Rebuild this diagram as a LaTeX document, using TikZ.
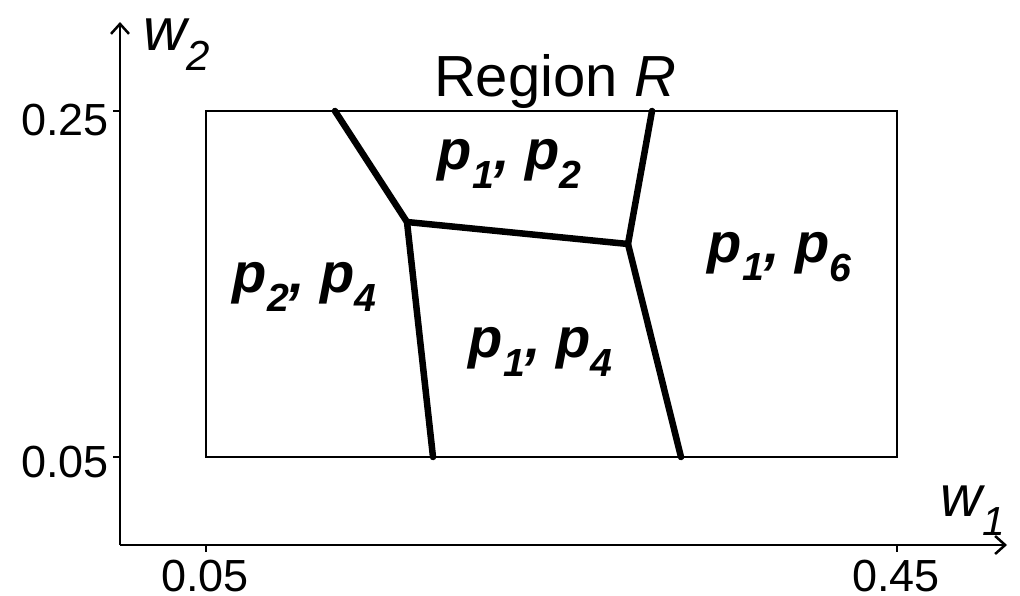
\documentclass[tikz,border=0pt]{standalone}
\usepackage{fontspec}
\setmainfont{Liberation Sans}
\usetikzlibrary{arrows.meta}
\begin{document}
\begin{tikzpicture}[x=1pt,y=-1pt,
  axis/.style={line width=2.5pt,-{Straight Barb[length=10pt,width=18pt,line width=2.5pt]}},
  tickm/.style={line width=2pt},
  bound/.style={line width=6.5pt,line cap=round,line join=round},
  lbl/.style={font=\fontsize{56}{56}\selectfont\bfseries\itshape},
  num/.style={font=\fontsize{45}{45}\selectfont}]
\useasboundingbox (0,0) rectangle (1020,595);
% axes
\coordinate (O) at (120,545);
\coordinate (Ytop) at (120,22);
\coordinate (Xend) at (1007,545);
\draw[axis] (O) -- (Ytop);
\draw[axis] (O) -- (Xend);
% ticks
\coordinate (ty1) at (120,111); \coordinate (ty1l) at (113,111);
\coordinate (ty2) at (120,457); \coordinate (ty2l) at (113,457);
\coordinate (tx1) at (206,545); \coordinate (tx1b) at (206,552);
\coordinate (tx2) at (897,545); \coordinate (tx2b) at (897,552);
\draw[tickm] (ty1) -- (ty1l);
\draw[tickm] (ty2) -- (ty2l);
\draw[tickm] (tx1) -- (tx1b);
\draw[tickm] (tx2) -- (tx2b);
% tick labels
\node[num,anchor=base east,inner sep=0pt] (l025) at (109,135) {0.25};
\node[num,anchor=base east,inner sep=0pt] (l005y) at (109,477) {0.05};
\node[num,anchor=base,inner sep=0pt] (l005x) at (205,591) {0.05};
\node[num,anchor=base,inner sep=0pt] (l045x) at (896,591) {0.45};
% axis labels
\node[font=\fontsize{60}{60}\selectfont\itshape,anchor=base west,inner sep=0pt] (w2) at (143,50) {w\textsubscript{2}};
\node[font=\fontsize{58}{58}\selectfont\itshape,anchor=base,inner sep=0pt] (w1) at (973,516) {w\textsubscript{1}};
% region
\draw[line width=1.5pt] (206,111) rectangle (897,457);
\node[font=\fontsize{58}{58}\selectfont,anchor=base,inner sep=0pt] (title) at (555,96) {Region \textit{R}};
% boundaries
\coordinate (a) at (335,111);
\coordinate (b) at (407,222);
\coordinate (c) at (628,244);
\coordinate (d) at (652,111);
\coordinate (e) at (433,457);
\coordinate (f) at (681,457);
\draw[bound] (a) -- (b) -- (c) -- (d);
\draw[bound] (b) -- (e);
\draw[bound] (c) -- (f);
% labels
\node[lbl] (r12) at (510,164) {p\textsubscript{1}, p\textsubscript{2}};
\node[lbl] (r16) at (780,257) {p\textsubscript{1}, p\textsubscript{6}};
\node[lbl] (r24) at (305,287) {p\textsubscript{2}, p\textsubscript{4}};
\node[lbl] (r14) at (541,352) {p\textsubscript{1}, p\textsubscript{4}};
\end{tikzpicture}
\end{document}
